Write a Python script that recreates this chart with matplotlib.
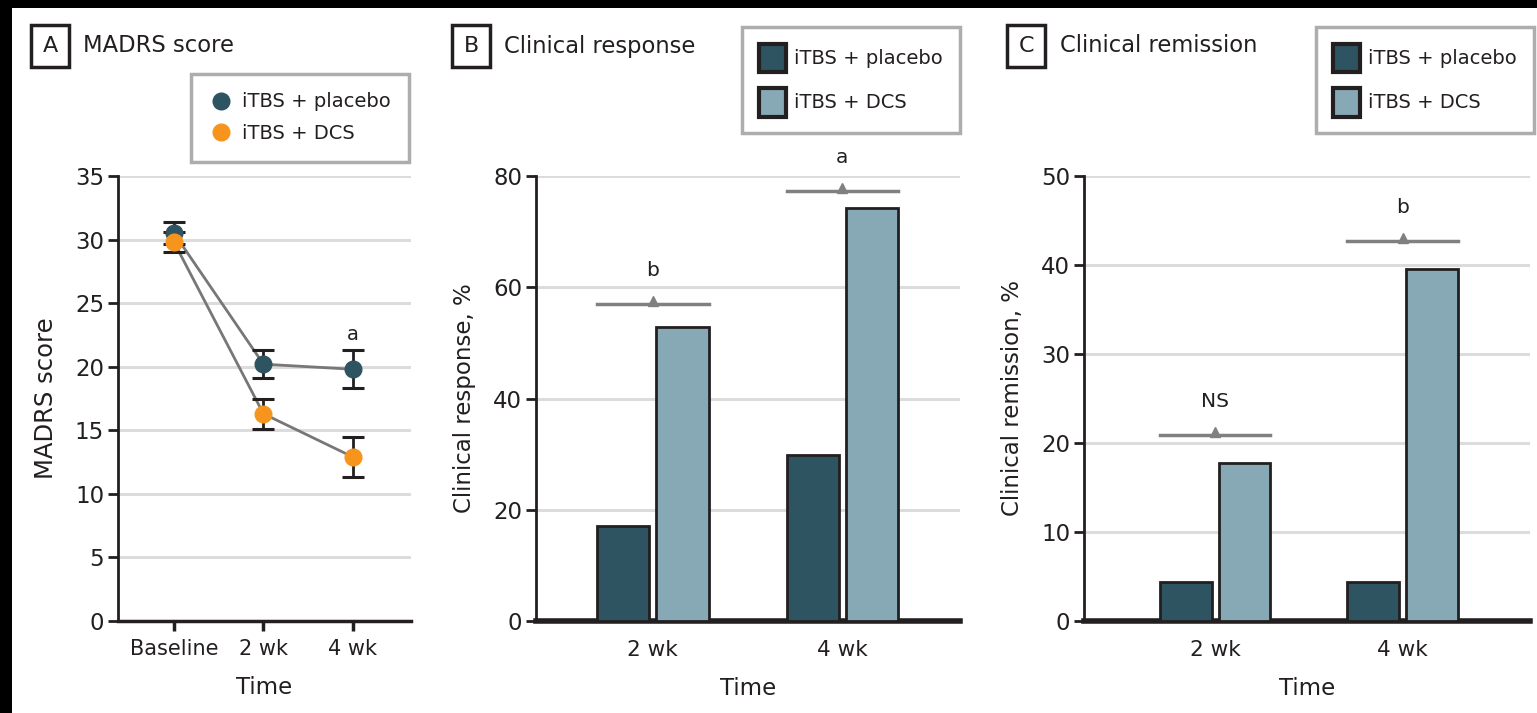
import matplotlib.pyplot as plt
from matplotlib.patches import Rectangle, Patch
from matplotlib.lines import Line2D

plt.rcParams['font.family'] = ['DejaVu Sans']

# Panel A data: MADRS score
time_labels = ['Baseline', '2 wk', '4 wk']
madrs_placebo = [30.5, 20.2, 19.8]
madrs_placebo_err = [0.85, 1.1, 1.5]
madrs_dcs = [29.8, 16.3, 12.9]
madrs_dcs_err = [0.8, 1.2, 1.6]

# Panels B and C data
bar_labels = ['2 wk', '4 wk']
response_placebo = [17.1, 29.9]
response_dcs = [52.9, 74.3]
remission_placebo = [4.4, 4.4]
remission_dcs = [17.8, 39.6]
response_sig = ['b', 'a']
response_sig_y = [57.0, 77.3]
remission_sig = ['NS', 'b']
remission_sig_y = [20.9, 42.7]

c_placebo = '#2e5461'
c_dcs_bar = '#87a9b6'
c_dcs = '#f7941d'
c_dark = '#231f20'
c_grid = '#dcdcdc'

fig = plt.figure(figsize=(15.37, 7.13), dpi=100)
fig.patch.set_facecolor('black')
fig.add_artist(Rectangle((12 / 1537, 0), 1, (713 - 8) / 713, transform=fig.transFigure,
                         facecolor='white', edgecolor='none', zorder=-10))

ax_bottom = (713 - 621) / 713
ax_height = (621 - 176) / 713


def style_axes(ax):
    ax.set_facecolor('none')
    for s in ['top', 'right']:
        ax.spines[s].set_visible(False)
    ax.spines['left'].set_linewidth(2)
    ax.spines['left'].set_color(c_dark)
    ax.spines['bottom'].set_color(c_dark)
    ax.yaxis.grid(True, color=c_grid, linewidth=2.2)
    ax.set_axisbelow(True)
    ax.tick_params(axis='y', length=7, width=2, color=c_dark, labelsize=16.5, labelcolor=c_dark, pad=3)
    ax.set_xlabel('Time', fontsize=16.5, color=c_dark, labelpad=12)


def panel_title(x, letter, title_x, title):
    fig.text(x, (713 - 46) / 713, letter, fontsize=16, color=c_dark, ha='center', va='center',
             bbox=dict(boxstyle='square,pad=0.5', facecolor='white', edgecolor=c_dark, linewidth=2.5))
    fig.text(title_x, (713 - 46) / 713, title, fontsize=16.3, color=c_dark, ha='left', va='center')


# ---------------- Panel A ----------------
axA = fig.add_axes([118 / 1537, ax_bottom, (411 - 118) / 1537, ax_height])
style_axes(axA)
xs = range(len(time_labels))
axA.plot(xs, madrs_placebo, color='#777777', linewidth=2, zorder=2)
axA.plot(xs, madrs_dcs, color='#777777', linewidth=2, zorder=2)
for vals, errs, col in [(madrs_placebo, madrs_placebo_err, c_placebo), (madrs_dcs, madrs_dcs_err, c_dcs)]:
    eb = axA.errorbar(xs, vals, yerr=errs, fmt='o', color=col, markersize=12, ecolor=c_dark,
                      elinewidth=2, capsize=8, capthick=2.2, zorder=3)
    for cap in eb[1]:
        cap.set_color(col)
axA.text(2, 22.5, 'a', fontsize=14, color=c_dark, ha='center', va='center')
axA.set_xlim(-0.626, 2.65)
axA.set_ylim(0, 35)
axA.set_yticks(range(0, 36, 5))
axA.set_xticks(list(xs))
axA.set_xticklabels(time_labels)
axA.spines['bottom'].set_linewidth(2.5)
axA.tick_params(axis='x', length=7, width=2.5, color=c_dark, labelsize=15, labelcolor=c_dark, pad=6)
axA.set_ylabel('MADRS score', fontsize=17.5, color=c_dark, labelpad=12)
legA = axA.legend(handles=[
    Line2D([], [], marker='o', linestyle='none', color=c_placebo, markersize=12, label='iTBS + placebo'),
    Line2D([], [], marker='o', linestyle='none', color=c_dcs, markersize=12, label='iTBS + DCS')],
    loc='upper left', bbox_to_anchor=(191 / 1537, (713 - 74) / 713), bbox_transform=fig.transFigure,
    fontsize=14, frameon=True, fancybox=False, handletextpad=0.45, labelspacing=0.65,
    borderpad=0.95, handlelength=1.2, borderaxespad=0)
legA.get_frame().set_edgecolor('#999999')
legA.get_frame().set_linewidth(2.5)
for t in legA.get_texts():
    t.set_color(c_dark)
panel_title(50 / 1537, 'A', 83 / 1537, 'MADRS score')


# ---------------- Panels B and C ----------------
def bar_panel(left, right, xlim, placebo, dcs, ylim, yticks, ylabel, sig, sig_y, leg_left):
    ax = fig.add_axes([left / 1537, ax_bottom, (right - left) / 1537, ax_height])
    style_axes(ax)
    pos = range(len(bar_labels))
    w = 0.275
    ax.bar([p - 0.157 for p in pos], placebo, width=w, color=c_placebo, edgecolor=c_dark, linewidth=2, zorder=3)
    ax.bar([p + 0.157 for p in pos], dcs, width=w, color=c_dcs_bar, edgecolor=c_dark, linewidth=2, zorder=3)
    span = ylim[1] - ylim[0]
    for p, s, y in zip(pos, sig, sig_y):
        ax.plot([p - 0.157 - w / 2, p + 0.157 + w / 2], [y, y], color='#808080', linewidth=2.5, zorder=4)
        ax.plot([p], [y + span * 0.006], marker='^', color='#808080', markersize=7, zorder=4)
        ax.text(p, y + span * 0.075, s, fontsize=14.5, color=c_dark, ha='center', va='center')
    ax.set_xlim(*xlim)
    ax.set_ylim(*ylim)
    ax.set_yticks(yticks)
    ax.set_xticks(list(pos))
    ax.set_xticklabels(bar_labels)
    ax.spines['bottom'].set_linewidth(4)
    ax.tick_params(axis='x', length=0, labelsize=15.5, labelcolor=c_dark, pad=14)
    ax.set_ylabel(ylabel, fontsize=16.5, color=c_dark, labelpad=12)
    leg = ax.legend(handles=[
        Patch(facecolor=c_placebo, edgecolor=c_dark, linewidth=3, label='iTBS + placebo'),
        Patch(facecolor=c_dcs_bar, edgecolor=c_dark, linewidth=3, label='iTBS + DCS')],
        loc='upper left', bbox_to_anchor=(leg_left / 1537, (713 - 27) / 713), bbox_transform=fig.transFigure,
        fontsize=14, frameon=True, fancybox=False, handletextpad=0.45, labelspacing=0.8,
        borderpad=0.85, handlelength=1.4, handleheight=1.9, borderaxespad=0)
    leg.get_frame().set_edgecolor('#999999')
    leg.get_frame().set_linewidth(2.5)
    for t in leg.get_texts():
        t.set_color(c_dark)
    return ax


axB = bar_panel(536, 960, (-0.615, 1.62), response_placebo, response_dcs, (0, 80), range(0, 81, 20),
                'Clinical response, %', response_sig, response_sig_y, 742)
panel_title(471 / 1537, 'B', 504 / 1537, 'Clinical response')

axC = bar_panel(1084, 1530, (-0.70, 1.68), remission_placebo, remission_dcs, (0, 50), range(0, 51, 10),
                'Clinical remission, %', remission_sig, remission_sig_y, 1316)
panel_title(1026 / 1537, 'C', 1060 / 1537, 'Clinical remission')

fig.savefig('out.png', dpi=100, facecolor=fig.get_facecolor())
